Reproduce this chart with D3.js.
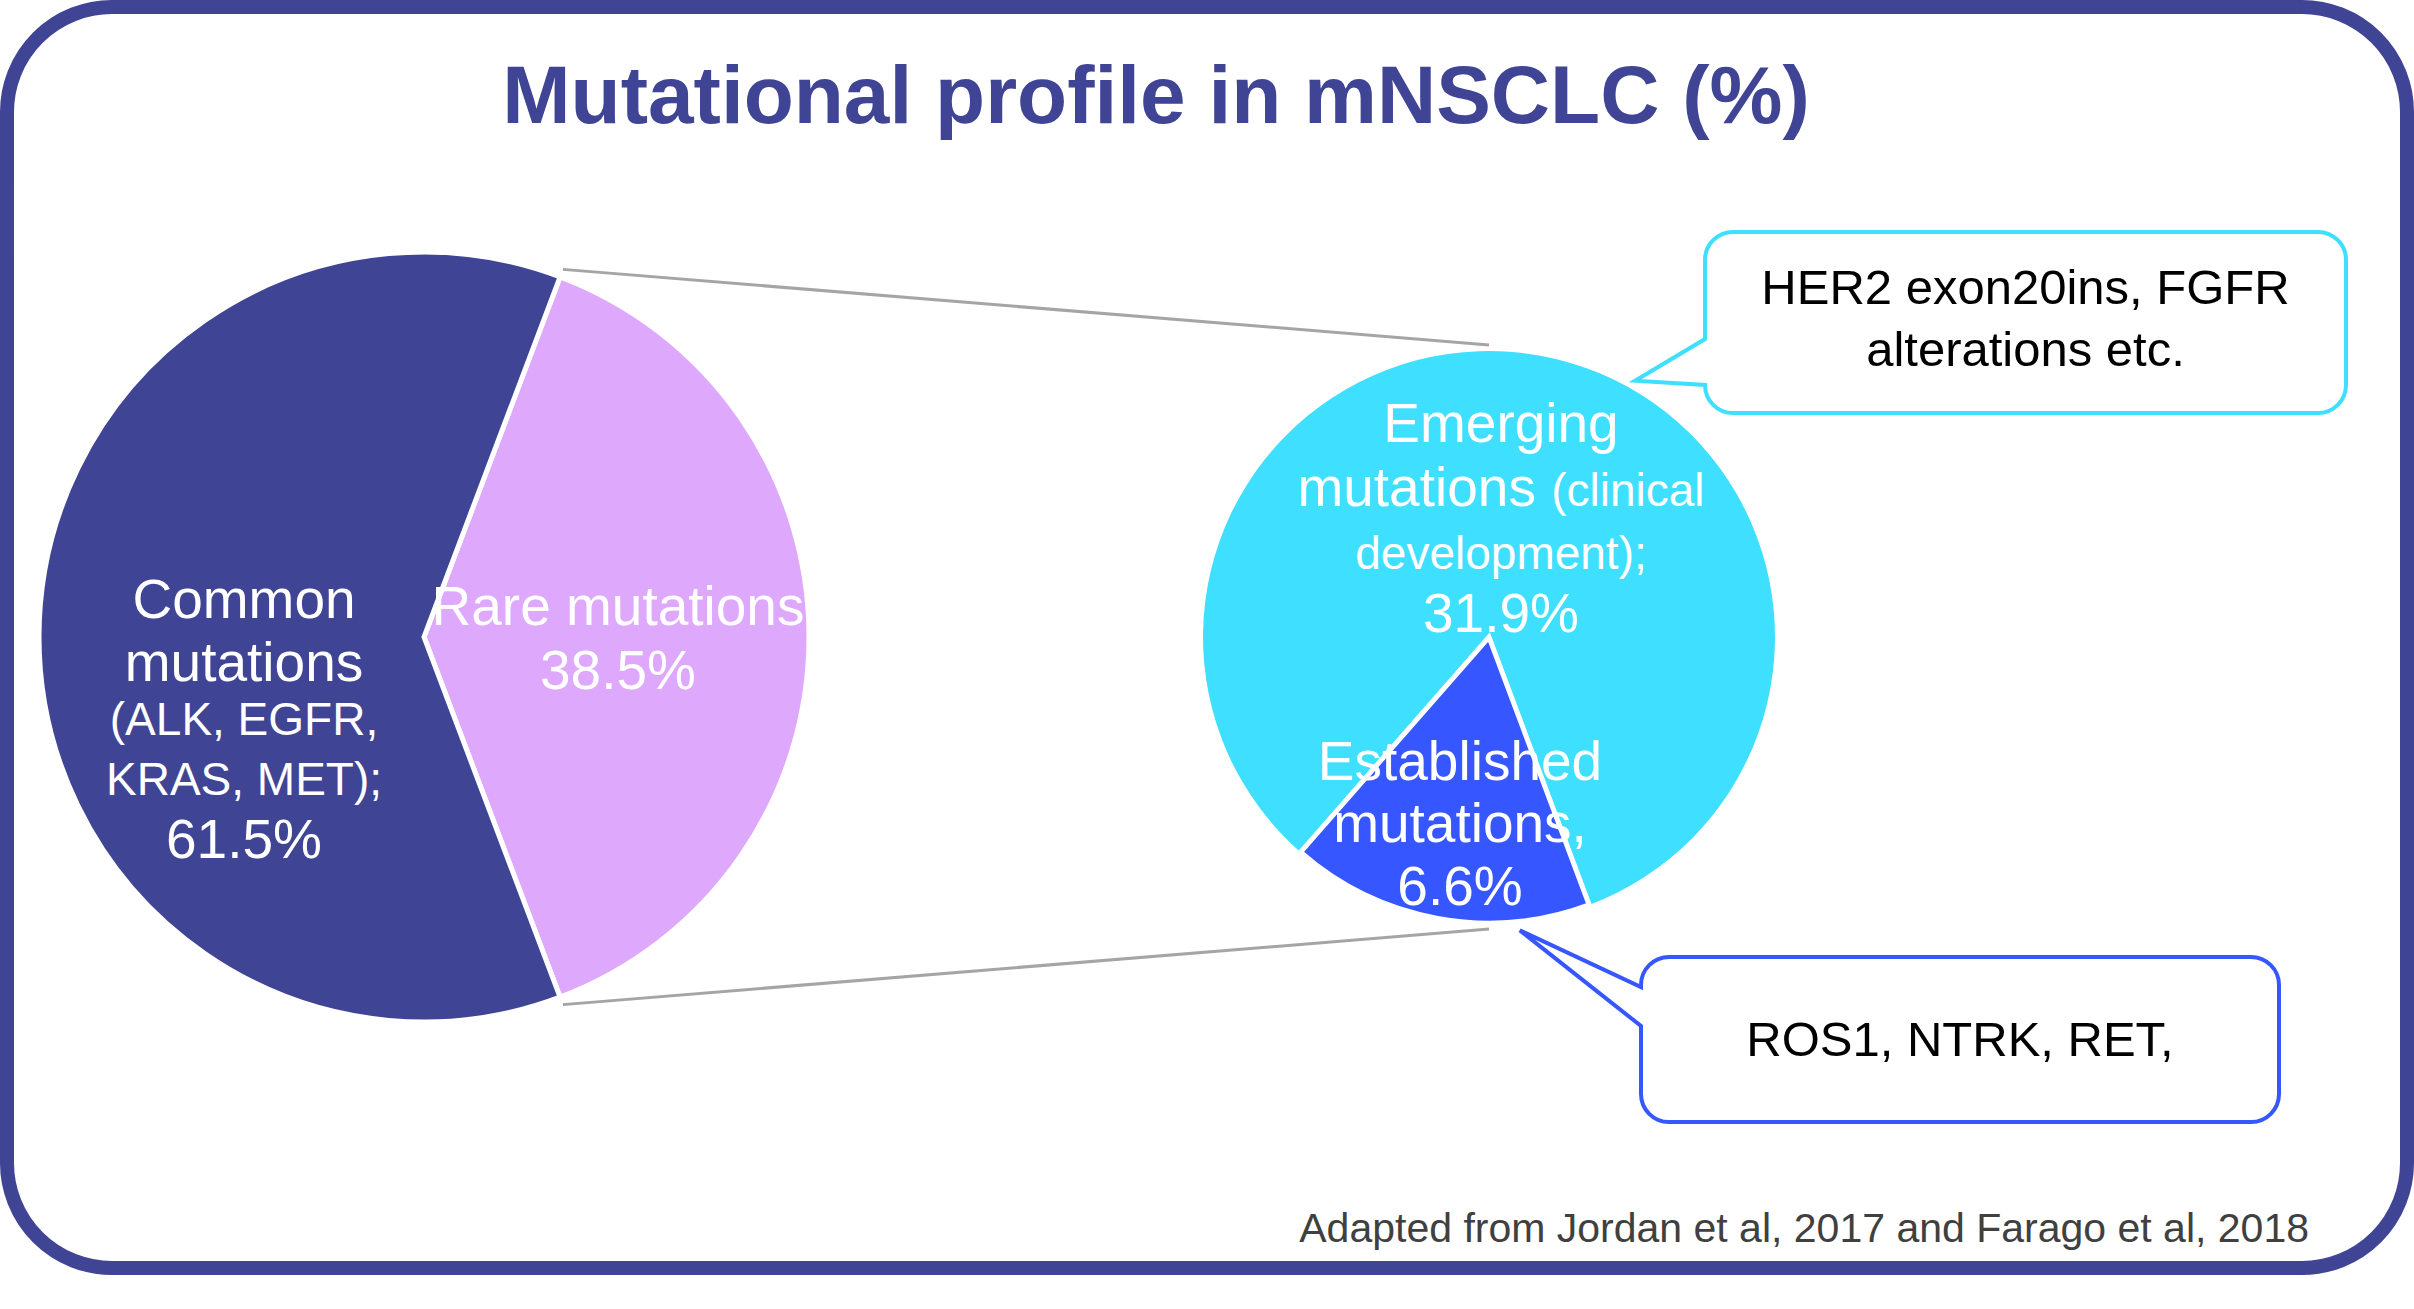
<!DOCTYPE html>
<html>
<head>
<meta charset="utf-8">
<script src="https://cdn.jsdelivr.net/npm/d3@7"></script>
<style>
  html, body { margin: 0; padding: 0; background: #fff; }
  svg text { font-family: "Liberation Sans", Arial, sans-serif; }
</style>
</head>
<body>
<svg id="chart" width="2414" height="1309"></svg>
<script>
// main pie
var mainCategories = ["Rare mutations", "Common mutations"];
var mainValues = [38.5, 61.5];
// secondary pie (breakdown of rare mutations)
var subCategories = ["Established mutations", "Emerging mutations"];
var subValues = [6.6, 31.9];
var calloutTexts = [["HER2 exon20ins, FGFR", "alterations etc."], ["ROS1, NTRK, RET,"]];
var titleText = "Mutational profile in mNSCLC (%)";
var sourceText = "Adapted from Jordan et al, 2017 and Farago et al, 2018";

var svg = d3.select("#chart"),
    width = +svg.attr("width"),
    height = +svg.attr("height");

var navy = "#3f4495";
var mainColor = d3.scaleOrdinal().domain(mainCategories).range(["#dea9fd", navy]);
var subColor = d3.scaleOrdinal().domain(subCategories).range(["#3657ff", "#3edfff"]);

// frame
svg.append("rect")
    .attr("x", 7).attr("y", 7)
    .attr("width", 2400).attr("height", 1261)
    .attr("rx", 105).attr("ry", 105)
    .attr("fill", "#fff")
    .attr("stroke", navy)
    .attr("stroke-width", 14);

svg.append("text")
    .attr("x", 1156).attr("y", 123)
    .attr("text-anchor", "middle")
    .attr("font-size", 82)
    .attr("font-weight", "bold")
    .attr("fill", navy)
    .text(titleText);

var left = { cx: 424, cy: 637, r: 385 };
var right = { cx: 1489, cy: 637, r: 286 };

// rare slice centred on the right side
var rareAngle = mainValues[0] / d3.sum(mainValues) * 2 * Math.PI;
var mainPie = d3.pie().sort(null)
    .startAngle(Math.PI / 2 - rareAngle / 2)
    .endAngle(Math.PI / 2 - rareAngle / 2 + 2 * Math.PI);
var subStart = 159.5 * Math.PI / 180;
var subPie = d3.pie().sort(null).startAngle(subStart).endAngle(subStart + 2 * Math.PI);

var mainArcs = mainPie(mainValues);
var subArcs = subPie(subValues);

function polar(c, rad, a) {
    return [c.cx + rad * Math.sin(a), c.cy - rad * Math.cos(a)];
}

// connector lines from the rare slice edges to the secondary pie
var lineData = [
    [polar(left, left.r + 8, mainArcs[0].startAngle), polar(right, right.r + 6, 0)],
    [polar(left, left.r + 8, mainArcs[0].endAngle), polar(right, right.r + 6, Math.PI)]
];
svg.append("g").selectAll("line")
    .data(lineData).enter()
    .append("line")
        .attr("x1", function(d) { return d[0][0]; })
        .attr("y1", function(d) { return d[0][1]; })
        .attr("x2", function(d) { return d[1][0]; })
        .attr("y2", function(d) { return d[1][1]; })
        .attr("stroke", "#a5a5a5")
        .attr("stroke-width", 3);

var mainArc = d3.arc().innerRadius(0).outerRadius(left.r);
svg.append("g")
    .attr("transform", "translate(" + left.cx + "," + left.cy + ")")
    .selectAll("path")
    .data(mainArcs).enter()
    .append("path")
        .attr("d", mainArc)
        .attr("fill", function(d, i) { return mainColor(mainCategories[i]); })
        .attr("stroke", "#fff")
        .attr("stroke-width", 5)
        .attr("stroke-linejoin", "miter");

var subArc = d3.arc().innerRadius(0).outerRadius(right.r);
svg.append("g")
    .attr("transform", "translate(" + right.cx + "," + right.cy + ")")
    .selectAll("path")
    .data(subArcs.slice().reverse()).enter()
    .append("path")
        .attr("d", subArc)
        .attr("fill", function(d) { return subColor(subCategories[d.index]); })
        .attr("stroke", function(d) { return d.index === 0 ? "#fff" : "none"; })
        .attr("stroke-width", 5);

// slice labels; each line is a list of [text, size] pieces
var big = 55, small = 46;
function addLabel(c, dx, lines) {
    var g = svg.append("g");
    lines.forEach(function(ln) {
        var t = g.append("text")
            .attr("x", c.cx + dx)
            .attr("y", c.cy + ln.dy)
            .attr("text-anchor", "middle")
            .attr("fill", "#fff");
        ln.parts.forEach(function(p) {
            t.append("tspan").attr("font-size", p[1]).text(p[0]);
        });
    });
}

addLabel(left, -180, [
    { dy: -19, parts: [["Common", big]] },
    { dy: 44, parts: [["mutations", big]] },
    { dy: 98, parts: [["(ALK, EGFR,", small]] },
    { dy: 158, parts: [["KRAS, MET);", small]] },
    { dy: 221, parts: [[mainValues[1] + "%", big]] }
]);
addLabel(left, 194, [
    { dy: -12, parts: [["Rare mutations", big]] },
    { dy: 52, parts: [[mainValues[0] + "%", big]] }
]);
addLabel(right, 12, [
    { dy: -195, parts: [["Emerging", big]] },
    { dy: -131, parts: [["mutations ", big], ["(clinical", small]] },
    { dy: -68, parts: [["development);", small]] },
    { dy: -5, parts: [[subValues[1] + "%", big]] }
]);
addLabel(right, -29, [
    { dy: 143, parts: [["Established", big]] },
    { dy: 205, parts: [["mutations,", big]] },
    { dy: 268, parts: [[subValues[0] + "%", big]] }
]);

// speech-bubble callouts
function bubblePath(b, tip) {
    var x1 = b.x, y1 = b.y, x2 = b.x + b.w, y2 = b.y + b.h, r = b.r;
    var p = d3.path();
    p.moveTo(x1 + r, y1);
    p.lineTo(x2 - r, y1);
    p.arcTo(x2, y1, x2, y1 + r, r);
    p.lineTo(x2, y2 - r);
    p.arcTo(x2, y2, x2 - r, y2, r);
    p.lineTo(x1 + r, y2);
    p.arcTo(x1, y2, x1, y2 - r, r);
    p.lineTo(x1, b.base[1]);
    p.lineTo(tip[0], tip[1]);
    p.lineTo(x1, b.base[0]);
    p.lineTo(x1, y1 + r);
    p.arcTo(x1, y1, x1 + r, y1, r);
    p.closePath();
    return p.toString();
}

var bubbles = [
    { x: 1705, y: 232, w: 641, h: 181, r: 28, base: [339, 385], tipAngle: 29.7, color: "#3edfff", textY: 304 },
    { x: 1641, y: 957, w: 638, h: 165, r: 28, base: [987, 1026], tipAngle: 174, color: "#3657ff", textY: 1056 }
];
bubbles.forEach(function(b, i) {
    var tip = polar(right, right.r + 9, b.tipAngle * Math.PI / 180);
    svg.append("path")
        .attr("d", bubblePath(b, tip))
        .attr("fill", "#fff")
        .attr("stroke", b.color)
        .attr("stroke-width", 4)
        .attr("stroke-linejoin", "miter");
    svg.append("g").selectAll("text")
        .data(calloutTexts[i]).enter()
        .append("text")
            .attr("x", b.x + b.w / 2)
            .attr("y", function(d, j) { return b.textY + j * 62; })
            .attr("text-anchor", "middle")
            .attr("font-size", 49)
            .attr("fill", "#000")
            .text(function(d) { return d; });
});

svg.append("text")
    .attr("x", 2309).attr("y", 1242)
    .attr("text-anchor", "end")
    .attr("font-size", 41)
    .attr("fill", "#404040")
    .text(sourceText);
</script>
</body>
</html>
